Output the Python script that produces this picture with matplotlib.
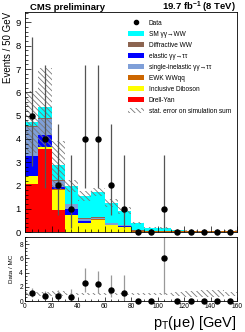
import numpy as np
import matplotlib
matplotlib.use('Agg')
import matplotlib.pyplot as plt
from matplotlib.patches import Patch
from matplotlib.lines import Line2D
from matplotlib.ticker import MultipleLocator

plt.rcParams['font.family'] = ['Liberation Sans', 'DejaVu Sans']
plt.rcParams['mathtext.fontset'] = 'custom'
plt.rcParams['mathtext.rm'] = 'Liberation Sans'
plt.rcParams['mathtext.it'] = 'Liberation Sans:italic'
plt.rcParams['mathtext.bf'] = 'Liberation Sans:bold'
plt.rcParams['hatch.linewidth'] = 0.6

# Bins de pT (GeV)
edges = np.arange(0, 170, 10)
centers = edges[:-1] + 5

# Amostras simuladas (de baixo para cima na pilha)
drell_yan   = [2.05, 3.55, 0.94, 0.00, 0.00, 0.00, 0.00, 0.00, 0.00, 0.00, 0.00, 0.00, 0.00, 0.00, 0.00, 0.00]
diboson     = [0.35, 0.11, 0.87, 0.71, 0.38, 0.52, 0.28, 0.21, 0.02, 0.02, 0.01, 0.01, 0.01, 0.01, 0.01, 0.01]
ewk_wwqq    = [0.01, 0.01, 0.02, 0.02, 0.02, 0.02, 0.02, 0.02, 0.02, 0.02, 0.02, 0.02, 0.02, 0.02, 0.02, 0.02]
elastic_tt  = [0.86, 0.50, 0.09, 0.26, 0.07, 0.02, 0.02, 0.04, 0.01, 0.00, 0.00, 0.00, 0.00, 0.00, 0.00, 0.00]
single_tt   = [1.26, 0.68, 0.27, 0.20, 0.08, 0.06, 0.05, 0.02, 0.01, 0.00, 0.00, 0.00, 0.00, 0.00, 0.00, 0.00]
diffr_ww    = [0.03, 0.03, 0.03, 0.03, 0.03, 0.03, 0.02, 0.02, 0.01, 0.00, 0.00, 0.00, 0.00, 0.00, 0.00, 0.00]
sm_ww       = [0.17, 0.47, 0.65, 0.75, 0.97, 1.05, 0.86, 0.61, 0.30, 0.15, 0.135, 0.04, 0.02, 0.01, 0.01, 0.03]
stat_err    = [1.33, 1.68, 1.03, 0.26, 0.23, 0.17, 0.17, 0.14, 0.04, 0.03, 0.03, 0.02, 0.02, 0.02, 0.02, 0.02]

# Dados com intervalos de Poisson
data    = [5, 4, 2, 1, 4, 4, 2, 1, 0, 0, 1, 0, 0, 0, 0, 0]
data_lo = [2.84, 1.91, 0.71, 0.17, 1.91, 1.91, 0.71, 0.17, 0, 0, 0.17, 0, 0, 0, 0, 0]
data_hi = [8.38, 7.16, 4.64, 3.30, 7.16, 7.16, 4.64, 3.30, 0, 0, 3.30, 0, 0, 0, 0, 0]

samples = [
    (drell_yan, '#ff0000', 'Drell-Yan'),
    (diboson, '#ffff00', 'Inclusive Diboson'),
    (ewk_wwqq, '#cc6600', 'EWK WWqq'),
    (elastic_tt, '#0000ff', 'elastic \u03b3\u03b3\u2192\u03c4\u03c4'),
    (single_tt, '#7f9fd8', 'single-inelastic \u03b3\u03b3\u2192\u03c4\u03c4'),
    (diffr_ww, '#8c6450', 'Diffractive WW'),
    (sm_ww, '#00ffff', 'SM \u03b3\u03b3\u2192WW'),
]

fig = plt.figure(figsize=(2.45, 3.32), dpi=100)
ax = fig.add_axes([25/245, 1-232/332, 212/245, 220/332])
axr = fig.add_axes([25/245, 1-301/332, 212/245, 64/332])

# Pilha
base = np.zeros(len(centers))
for vals, cor, nome in samples:
    vals = np.array(vals)
    ax.stairs(base + vals, edges, baseline=base, fill=True, color=cor, lw=0)
    base = base + vals
total = base

# Banda de erro estatistico
err = np.array(stat_err)
ax.stairs(total + err, edges, baseline=total - err, fill=True, facecolor='none',
          edgecolor='#777777', hatch='\\\\\\\\\\\\', lw=0)

# Dados
data = np.array(data)
nz = data > 0
ax.vlines(centers[nz], np.array(data_lo)[nz], np.array(data_hi)[nz], color='#555555', lw=0.9)
ax.plot(centers, data, 'o', color='black', ms=3.6, clip_on=False, zorder=5)

ax.set_xlim(0, 160)
ax.set_ylim(0, 9.45)
ax.yaxis.set_major_locator(MultipleLocator(1))
ax.yaxis.set_minor_locator(MultipleLocator(0.2))
ax.xaxis.set_major_locator(MultipleLocator(20))
ax.xaxis.set_minor_locator(MultipleLocator(5))
ax.tick_params(which='both', direction='in', top=False, right=False, labelsize=6.8, pad=3)
ax.tick_params(which='major', length=4, width=0.5)
ax.tick_params(which='minor', length=2, width=0.5)
ax.tick_params(axis='x', labelbottom=False)
for s in ax.spines.values():
    s.set_linewidth(0.6)
ax.set_ylabel('Events / 50 GeV', fontsize=7, loc='top', labelpad=2)

# Legenda
handles = [Line2D([], [], marker='o', ls='', color='black', ms=3)]
labels = ['Data']
for vals, cor, nome in samples[::-1]:
    handles.append(Patch(facecolor=cor, edgecolor='none'))
    labels.append(nome)
# reordenar para ficar como no original
order = [0, 1, 2, 4, 3, 5, 6, 7]
handles = [handles[i] for i in order]
labels = [labels[i] for i in order]
handles.append(Patch(facecolor='white', edgecolor='#777777', hatch='\\\\\\\\\\\\', lw=0))
labels.append('stat. error on simulation sum')
ax.legend(handles, labels, loc='upper left', bbox_to_anchor=(0.485, 0.965), frameon=False,
          fontsize=4.7, handlelength=2.5, handleheight=0.95, labelspacing=0.6,
          handletextpad=0.7, borderpad=0, borderaxespad=0)

fig.text(30/245, 1-7/332, 'CMS preliminary', fontsize=6.8, fontweight='bold', va='center', ha='left')
fig.text(236/245, 1-7/332, r'19.7 fb$^{\mathbf{-1}}$ (8 TeV)', fontsize=6.8, fontweight='bold',
         va='center', ha='right')

# Razao dados / MC
ratio = data / total
r_lo = np.array(data_lo) / total
r_hi = np.array(data_hi) / total
rel = err / total
axr.stairs(1 + rel, edges, baseline=1 - rel, fill=True, facecolor='none',
           edgecolor='#777777', hatch='\\\\\\\\\\\\', lw=0)
axr.vlines(centers[nz], r_lo[nz], r_hi[nz], color='#999999', lw=0.9)
axr.plot(centers, ratio, 'o', color='black', ms=3.6, clip_on=False, zorder=5)
axr.set_xlim(0, 160)
axr.set_ylim(0, 9)
axr.yaxis.set_major_locator(MultipleLocator(2))
axr.yaxis.set_minor_locator(MultipleLocator(0.5))
axr.xaxis.set_major_locator(MultipleLocator(20))
axr.xaxis.set_minor_locator(MultipleLocator(5))
axr.tick_params(which='both', direction='in', top=False, right=False, labelsize=4.8, pad=1.5)
axr.tick_params(which='major', length=3, width=0.5)
axr.tick_params(which='minor', length=1.5, width=0.5)
for s in axr.spines.values():
    s.set_linewidth(0.6)
axr.set_ylabel('Data / MC', fontsize=4.5, labelpad=4)
fig.text(237/245, 1-327/332, 'p$_\\mathregular{T}$(\u03bce) [GeV]',
         fontsize=10.5, ha='right', va='baseline')

plt.savefig('out.png', dpi=100)
